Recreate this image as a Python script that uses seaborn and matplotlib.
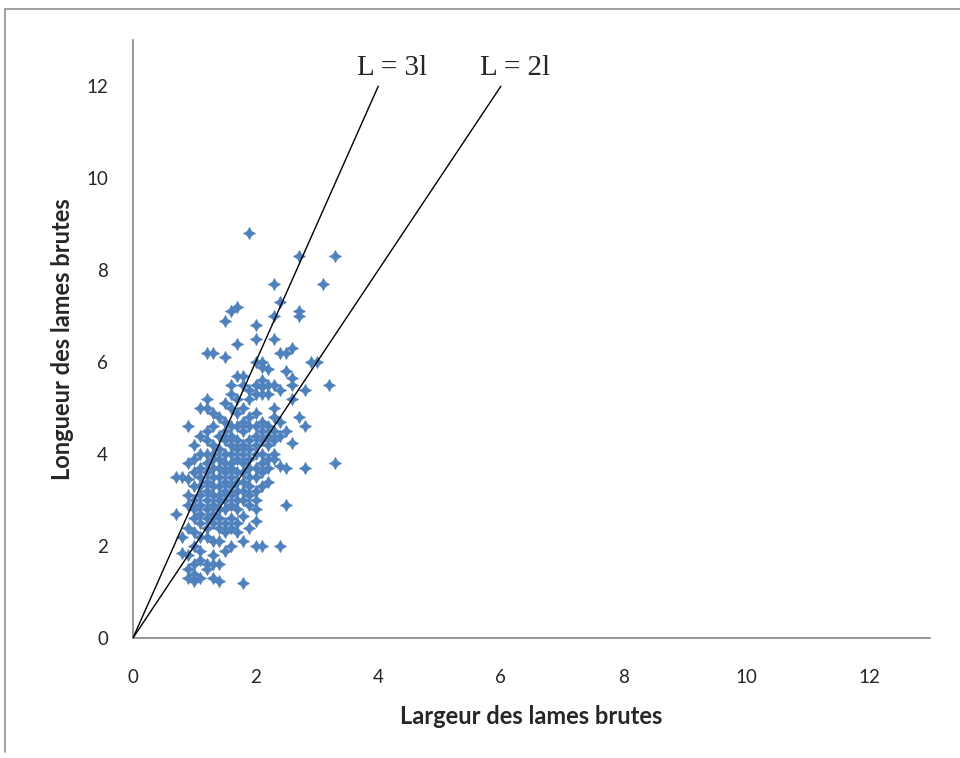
import matplotlib.pyplot as plt
import seaborn as sns
import pandas as pd

# largeur (x) -> longueurs (y)
colonnes = {
    0.7: [3.5, 2.7],
    0.8: [3.5, 2.2, 1.85],
    0.9: [4.6, 3.8, 3.45, 3.1, 2.9, 2.4, 1.8, 1.5, 1.3],
    1.0: [4.2, 3.9, 3.6, 3.3, 3.0, 2.8, 2.6, 2.3, 2.0, 1.6, 1.4, 1.25],
    1.1: [5.0, 4.4, 4.0, 3.7, 3.5, 3.3, 3.1, 2.9, 2.7, 2.5, 2.2, 1.9, 1.7, 1.3],
    1.2: [6.2, 5.2, 5.0, 4.5, 4.3, 4.0, 3.8, 3.6, 3.4, 3.2, 3.0, 2.8, 2.6, 2.4, 2.2, 1.6, 1.5],
    1.3: [6.2, 4.9, 4.6, 4.2, 4.0, 3.9, 3.7, 3.5, 3.3, 3.1, 2.9, 2.7, 2.5, 2.1, 1.8, 1.6, 1.3],
    1.4: [4.8, 4.4, 4.1, 3.9, 3.7, 3.5, 3.3, 3.1, 3.0, 2.8, 2.6, 2.4, 2.1, 1.6, 1.25],
    1.5: [6.9, 6.1, 5.1, 4.7, 4.5, 4.3, 4.0, 3.8, 3.6, 3.4, 3.2, 3.0, 2.8, 2.5, 2.3, 1.9],
    1.6: [7.1, 5.5, 5.3, 5.0, 4.6, 4.4, 4.2, 4.0, 3.8, 3.7, 3.5, 3.3, 3.1, 2.9, 2.6, 2.4, 2.0],
    1.7: [7.2, 6.4, 5.7, 5.2, 4.9, 4.6, 4.3, 4.1, 3.9, 3.6, 3.4, 3.2, 3.0, 2.8, 2.5, 2.3],
    1.8: [5.7, 5.5, 5.0, 4.7, 4.5, 4.2, 4.0, 3.8, 3.6, 3.4, 3.2, 3.0, 2.65, 2.1, 1.2],
    1.9: [8.8, 5.4, 5.2, 4.8, 4.6, 4.3, 4.1, 3.9, 3.7, 3.5, 3.3, 3.1, 2.9, 2.4],
    2.0: [6.8, 6.5, 6.0, 5.5, 5.3, 4.9, 4.6, 4.4, 4.2, 4.0, 3.7, 3.5, 3.2, 3.0, 2.8, 2.55, 2.0],
    2.1: [6.0, 5.9, 5.6, 5.45, 5.3, 4.7, 4.5, 4.3, 4.0, 3.8, 3.6, 3.3, 2.0],
    2.2: [5.85, 5.5, 5.3, 4.6, 4.4, 4.2, 3.9, 3.7, 3.4],
    2.3: [7.7, 7.0, 6.5, 5.5, 5.0, 4.8, 4.5, 4.3, 4.0, 3.9],
    2.4: [7.3, 6.2, 5.4, 4.7, 4.4, 3.75, 2.0],
    2.5: [6.2, 5.8, 4.5, 3.7, 2.9],
    2.6: [6.3, 5.65, 5.5, 5.2, 4.25],
    2.7: [8.3, 7.1, 7.0, 4.8],
    2.8: [5.4, 4.6, 3.7],
    2.9: [6.0],
    3.0: [6.0],
    3.1: [7.7],
    3.2: [5.5],
    3.3: [8.3, 3.8],
}
largeur = [l for l, ys in colonnes.items() for _ in ys]
longueur = [y for ys in colonnes.values() for y in ys]
df = pd.DataFrame({'Largeur': largeur, 'Longueur': longueur})

# droites L = 3l et L = 2l
droites = {'L = 3l': 3, 'L = 2l': 2}
fin_y = 12

sns.set_style('white')
fig = plt.figure(figsize=(9.6, 7.58), dpi=100)
ax = fig.add_axes([0.1385, 0.1583, 0.8305, 0.7887])

sns.scatterplot(data=df, x='Largeur', y='Longueur', marker=(4, 1, 0),
                color='#4F81BD', edgecolor='#4F81BD', s=75, linewidth=0.5,
                ax=ax, zorder=2)

for txt, k in droites.items():
    ax.plot([0, fin_y / k], [0, fin_y], color='black', lw=1, zorder=3)
    ax.text(fin_y / k + 0.23, fin_y + 0.39, txt, ha='center', va='center',
            fontsize=21, family='Liberation Serif')

ax.set_xlim(0, 13)
ax.set_ylim(0, 13)
ax.set_xticks(range(0, 13, 2))
ax.set_yticks(range(0, 13, 2))
ax.tick_params(length=0, labelsize=13.5)
ax.tick_params(axis='x', pad=22)
ax.tick_params(axis='y', pad=18)
for lab in ax.get_xticklabels() + ax.get_yticklabels():
    lab.set_family('Lato')

for s in ['top', 'right']:
    ax.spines[s].set_visible(False)
for s in ['left', 'bottom']:
    ax.spines[s].set_color('#868686')
    ax.spines[s].set_linewidth(1.2)

ax.set_xlabel('Largeur des lames brutes', fontsize=17, fontweight='bold',
              family='Lato', labelpad=14)
ax.set_ylabel('Longueur des lames brutes', fontsize=17, fontweight='bold',
              family='Lato', labelpad=9)

# cadre du graphique
fig.add_artist(plt.Line2D([5/960, 5/960], [1 - 9/758, 6/758], color='#9a9a9a', lw=1.3))
fig.add_artist(plt.Line2D([5/960, 1], [1 - 9/758, 1 - 9/758], color='#9a9a9a', lw=1.3))

fig.savefig('out.png', dpi=100)
